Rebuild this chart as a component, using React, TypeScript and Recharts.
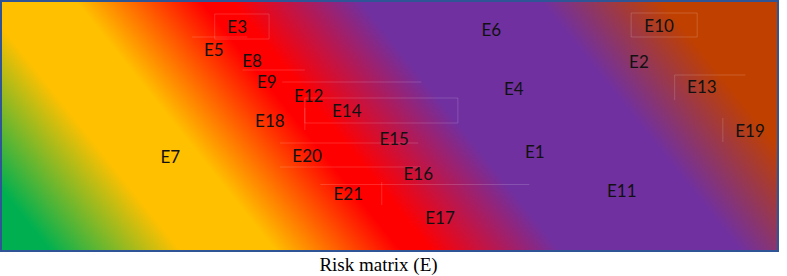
import { ScatterChart, Scatter, XAxis, YAxis, ReferenceArea, ReferenceLine } from "recharts";

// risk items, positioned on a 0-100 grid (x = severity, y = likelihood)
const labels = [
  "E1", "E2", "E3", "E4", "E5", "E6", "E7", "E8", "E9", "E10", "E11",
  "E12", "E13", "E14", "E15", "E16", "E17", "E18", "E19", "E20", "E21",
];
const xs = [68.7, 82.1, 30.4, 66.0, 27.4, 63.1, 21.8, 32.3, 34.2, 84.7, 79.9, 39.6, 90.2, 44.5, 50.6, 53.7, 56.5, 34.6, 96.4, 39.4, 44.7];
const ys = [39.6, 75.6, 89.6, 64.8, 80.4, 88.4, 37.6, 76.0, 67.6, 90.0, 24.0, 62.0, 65.6, 56.0, 44.8, 30.8, 13.2, 52.0, 48.0, 38.0, 22.8];

// faint leftover guide lines from the original figure: [x1, y1, x2, y2]
const guideLines = [
  [24.6, 85.6, 31.7, 85.6],
  [31.1, 72.4, 39.1, 72.4],
  [36.2, 67.6, 54.1, 67.6],
  [86.7, 70.4, 95.8, 70.4],
  [86.7, 60.4, 86.7, 70.4],
  [92.9, 43.6, 92.9, 53.2],
  [35.9, 43.2, 53.7, 43.2],
  [35.9, 33.6, 54.0, 33.6],
  [41.1, 26.6, 68.0, 26.6],
  [49.0, 18.4, 49.0, 27.6],
  [39.1, 48.4, 39.1, 57.2],
];
// faint boxes: [x1, x2, y1, y2]
const guideBoxes = [
  [27.5, 34.5, 84.8, 94.8],
  [39.1, 58.8, 51.2, 61.2],
  [81.1, 89.6, 85.6, 95.2],
];

const data = labels.map((name, i) => ({ name, x: xs[i], y: ys[i] }));

const faint = "rgba(255,255,255,0.16)";

function LabelMark(props: any) {
  const { cx, cy, payload } = props;
  return (
    <text
      x={cx}
      y={cy + 6}
      textAnchor="middle"
      fontFamily="Lato, 'Open Sans', sans-serif"
      fontSize={17}
      fill="#111"
    >
      {payload.name}
    </text>
  );
}

export default function App() {
  return (
    <div style={{ position: "absolute", left: 0, top: 0, width: 787, height: 276, background: "#fff" }}>
      <ScatterChart width={787} height={276} margin={{ top: 1, right: 9, bottom: 25, left: 1 }}>
        <defs>
          <linearGradient id="riskGrad" gradientUnits="userSpaceOnUse" x1={1} y1={251} x2={597.3} y2={-226.1}>
            <stop offset="0.051" stopColor="#00B050" />
            <stop offset="0.184" stopColor="#FFC000" />
            <stop offset="0.281" stopColor="#FFC000" />
            <stop offset="0.409" stopColor="#FF0000" />
            <stop offset="0.44" stopColor="#FF0000" />
            <stop offset="0.572" stopColor="#7030A0" />
            <stop offset="0.756" stopColor="#7030A0" />
            <stop offset="0.88" stopColor="#C04000" />
          </linearGradient>
        </defs>
        <XAxis type="number" dataKey="x" domain={[0, 100]} hide />
        <YAxis type="number" dataKey="y" domain={[0, 100]} hide />
        <ReferenceArea
          x1={0}
          x2={100}
          y1={0}
          y2={100}
          fill="url(#riskGrad)"
          fillOpacity={1}
          stroke="#2F5597"
          strokeWidth={2}
          ifOverflow="visible"
        />
        {guideBoxes.map(([x1, x2, y1, y2], i) => (
          <ReferenceArea key={"b" + i} x1={x1} x2={x2} y1={y1} y2={y2} fill="none" stroke={faint} strokeWidth={1} />
        ))}
        {guideLines.map(([x1, y1, x2, y2], i) => (
          <ReferenceLine
            key={"l" + i}
            segment={[{ x: x1, y: y1 }, { x: x2, y: y2 }]}
            stroke={faint}
            strokeWidth={1}
          />
        ))}
        <Scatter data={data} shape={<LabelMark />} isAnimationActive={false} />
      </ScatterChart>
      <div
        style={{
          position: "absolute",
          left: 0,
          top: 253,
          width: 757,
          textAlign: "center",
          fontFamily: "'Liberation Serif', 'Times New Roman', serif",
          fontSize: 19,
          lineHeight: "24px",
          color: "#000",
        }}
      >
        Risk matrix (E)
      </div>
    </div>
  );
}
